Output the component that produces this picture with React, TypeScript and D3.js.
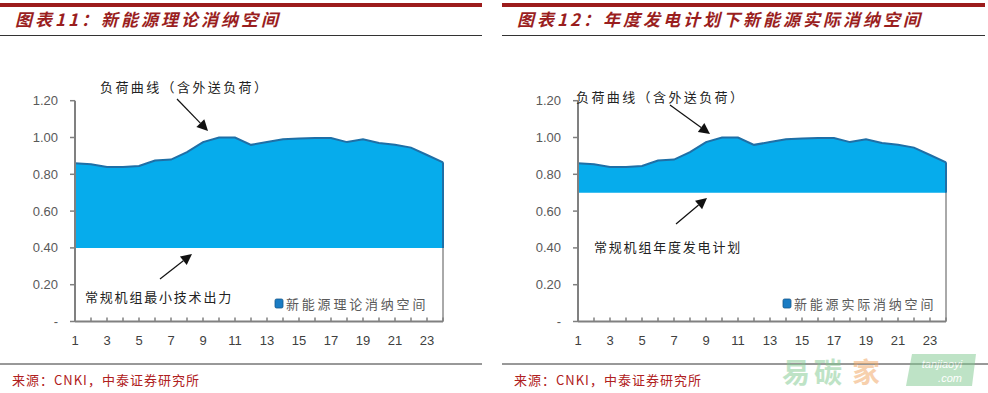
import * as d3 from "d3";

const hours = d3.range(1, 25);
const loadCurve = [
  0.86, 0.855, 0.84, 0.84, 0.845, 0.875, 0.88, 0.92, 0.975, 1.0, 1.0, 0.96,
  0.975, 0.99, 0.995, 0.997, 0.997, 0.975, 0.99, 0.97, 0.96, 0.945, 0.905, 0.865,
];
const yTicks = [0, 0.2, 0.4, 0.6, 0.8, 1.0, 1.2];
const xTickLabels = [1, 3, 5, 7, 9, 11, 13, 15, 17, 19, 21, 23];

const panels = [
  {
    left: 0,
    width: 482,
    axisX: 75,
    lastX: 443,
    floor: 0.4,
    title: "图表11：新能源理论消纳空间",
    legend: "新能源理论消纳空间",
    legendX: 275,
    topNote: { text: "负荷曲线（含外送负荷）", x: 100, y: 92, from: [177, 99], to: [208, 131] },
    lowNote: { text: "常规机组最小技术出力", x: 85, y: 302, from: [160, 279], to: [192, 254] },
    lineEnd: 482,
  },
  {
    left: 502,
    width: 483,
    axisX: 578,
    lastX: 946,
    floor: 0.7,
    title: "图表12：年度发电计划下新能源实际消纳空间",
    legend: "新能源实际消纳空间",
    legendX: 783,
    topNote: { text: "负荷曲线（含外送负荷）", x: 576, y: 102, from: [670, 105], to: [710, 134] },
    lowNote: { text: "常规机组年度发电计划", x: 594, y: 252, from: [676, 224], to: [707, 198] },
    lineEnd: 988,
  },
];

const cjk = "'Noto Sans CJK SC', 'Noto Sans', sans-serif";
const latin = "'Liberation Sans', Arial, sans-serif";

function Arrow({ from, to }: { from: number[]; to: number[] }) {
  const [x1, y1] = from;
  const [x2, y2] = to;
  const ang = Math.atan2(y2 - y1, x2 - x1);
  const len = 11;
  const half = 5.5;
  const bx = x2 - Math.cos(ang) * len;
  const by = y2 - Math.sin(ang) * len;
  const p1 = [bx + Math.sin(ang) * half, by - Math.cos(ang) * half];
  const p2 = [bx - Math.sin(ang) * half, by + Math.cos(ang) * half];
  return (
    <g>
      <line x1={x1} y1={y1} x2={bx} y2={by} stroke="#111" strokeWidth={1.2} />
      <path d={`M${x2},${y2}L${p1[0]},${p1[1]}L${p2[0]},${p2[1]}Z`} fill="#111" />
    </g>
  );
}

function Panel({ p }: { p: (typeof panels)[number] }) {
  const x = d3.scaleLinear().domain([1, 24]).range([p.axisX, p.lastX]);
  const y = d3.scaleLinear().domain([0, 1.2]).range([321.5, 100.7]);
  const pts = hours.map((h, i) => ({ h, v: loadCurve[i] }));

  const area = d3
    .area<{ h: number; v: number }>()
    .x((d) => x(d.h))
    .y0(y(p.floor))
    .y1((d) => y(d.v));
  const top = d3
    .line<{ h: number; v: number }>()
    .x((d) => x(d.h))
    .y((d) => y(d.v));

  const fmt = (v: number) => (v === 0 ? "-" : v.toFixed(2));

  return (
    <g>
      {/* header */}
      <rect x={p.left} y={3} width={p.width} height={4} fill="#9c1c1c" />
      <text
        x={p.left + 15}
        y={26}
        fill="#9a1e1e"
        fontFamily={cjk}
        fontSize={17}
        fontWeight={700}
        fontStyle="italic"
        letterSpacing={3}
      >
        {p.title}
      </text>
      <line x1={p.left} x2={p.left + p.width} y1={35.5} y2={35.5} stroke="#333" strokeWidth={1} />

      {/* area */}
      <path d={area(pts) ?? ""} fill="#06acec" />
      <path d={top(pts) ?? ""} fill="none" stroke="#1f6fa6" strokeWidth={2} />
      <line x1={p.lastX} x2={p.lastX} y1={y(p.floor)} y2={321.5} stroke="#555" strokeWidth={1} />
      <line
        x1={p.lastX}
        x2={p.lastX}
        y1={y(loadCurve[23])}
        y2={y(p.floor)}
        stroke="#1f6fa6"
        strokeWidth={2}
      />

      {/* y axis */}
      <line x1={p.axisX} x2={p.axisX} y1={y(1.2)} y2={321.5} stroke="#808080" strokeWidth={2} />
      {yTicks.map((t) => (
        <g key={t}>
          <line x1={p.axisX - 5} x2={p.axisX} y1={y(t)} y2={y(t)} stroke="#808080" strokeWidth={1.5} />
          <text
            x={p.axisX - 17}
            y={y(t) + 4.5}
            textAnchor="end"
            fill="#595959"
            fontFamily={latin}
            fontSize={13}
          >
            {fmt(t)}
          </text>
        </g>
      ))}

      {/* x axis */}
      <line x1={p.axisX} x2={p.lastX} y1={321.5} y2={321.5} stroke="#808080" strokeWidth={2} />
      {hours.map((h) => (
        <line key={h} x1={x(h)} x2={x(h)} y1={317.5} y2={321.5} stroke="#808080" strokeWidth={1.5} />
      ))}
      {xTickLabels.map((h) => (
        <text
          key={h}
          x={x(h)}
          y={345}
          textAnchor="middle"
          fill="#404040"
          fontFamily={latin}
          fontSize={13}
        >
          {h}
        </text>
      ))}

      {/* legend */}
      <rect x={p.legendX} y={299} width={8} height={9} rx={1.5} fill="#1a7cc4" stroke="#15568a" strokeWidth={0.8} />
      <text
        x={p.legendX + 11}
        y={309}
        fill="#595959"
        fontFamily={cjk}
        fontSize={13}
        letterSpacing={2.8}
      >
        {p.legend}
      </text>

      {/* annotations */}
      <text x={p.topNote.x} y={p.topNote.y} fill="#222" fontFamily={cjk} fontSize={13} letterSpacing={2.4}>
        {p.topNote.text}
      </text>
      <Arrow from={p.topNote.from} to={p.topNote.to} />
      <text x={p.lowNote.x} y={p.lowNote.y} fill="#222" fontFamily={cjk} fontSize={13} letterSpacing={1.8}>
        {p.lowNote.text}
      </text>
      <Arrow from={p.lowNote.from} to={p.lowNote.to} />

      {/* footer */}
      <line x1={p.left} x2={p.lineEnd} y1={364} y2={364} stroke="#333" strokeWidth={1} />
      <text x={p.left + 12} y={385} fill="#b02020" fontFamily={cjk} fontSize={13} letterSpacing={1}>
        来源：CNKI，中泰证券研究所
      </text>
    </g>
  );
}

export default function App() {
  return (
    <svg
      width={988}
      height={393}
      style={{ position: "absolute", left: 0, top: 0, background: "#fff" }}
    >
      <rect width={988} height={393} fill="#fff" />
      {panels.map((p) => (
        <Panel key={p.left} p={p} />
      ))}
      {/* watermark */}
      <g opacity={0.5}>
        <text x={782} y={383} fontFamily={cjk} fontSize={28} fontWeight={700} fill="#7fc98e" letterSpacing={4}>
          易碳
        </text>
        <text x={852} y={383} fontFamily={cjk} fontSize={28} fontWeight={700} fill="#f0a35e">
          家
        </text>
        <path d="M912,354 L976,354 L972,386 L906,386 Z" fill="#7fc98e" />
        <text x={942} y={368} textAnchor="middle" fontFamily={latin} fontSize={11} fontStyle="italic" fill="#fff">
          tanjiaoyi
        </text>
        <text x={950} y={382} textAnchor="middle" fontFamily={latin} fontSize={11} fontStyle="italic" fill="#fff">
          .com
        </text>
      </g>
    </svg>
  );
}
